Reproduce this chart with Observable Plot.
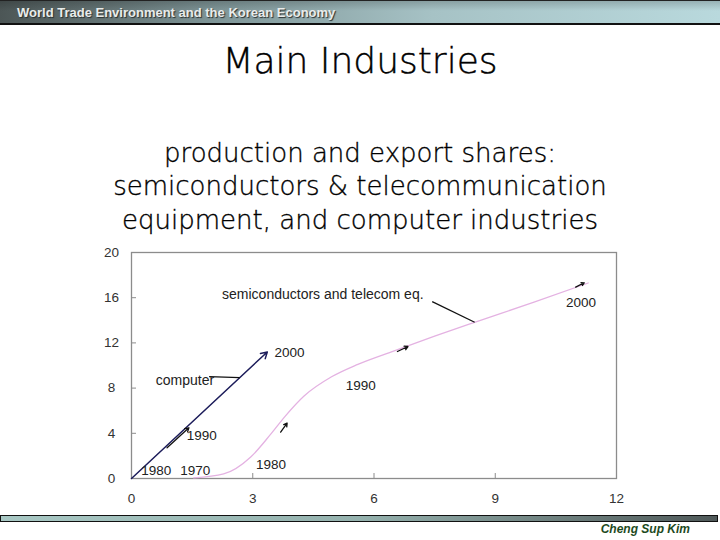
<!DOCTYPE html>
<html>
<head>
<meta charset="utf-8">
<script src="https://cdn.jsdelivr.net/npm/d3@7"></script>
<script src="https://cdn.jsdelivr.net/npm/@observablehq/plot@0.6"></script>
<style>
  html, body { margin: 0; padding: 0; background: #fff; }
  #page { position: relative; width: 720px; height: 540px; overflow: hidden; background: #fff; }
  #header { position: absolute; left: 0; top: 0; width: 720px; height: 22px;
    border-top: 1px solid #222; border-bottom: 2px solid #111;
    background: linear-gradient(to bottom, rgba(0,0,0,0.18), rgba(0,0,0,0) 45%),
                linear-gradient(to right, #4c5656 0%, #7f9698 30%, #a6c2c5 60%, #b9d9dd 100%);
    font: bold 13px "Liberation Sans", Arial, sans-serif; color: #e9eceb;
    line-height: 23px; text-shadow: 1px 1px 1px #2a3030; }
  #header span { position: absolute; left: 17px; top: 0; }
  #title { position: absolute; left: 0; width: 720px; top: 41px; text-align: center;
    font: 200 36px "DejaVu Sans", sans-serif; line-height: 40px; color: #000;
    -webkit-text-stroke: 0.4px #000; }
  #subtitle { position: absolute; left: 0; width: 720px; top: 137px; text-align: center;
    font: 200 26px "DejaVu Sans", sans-serif; line-height: 33.4px; color: #000;
    -webkit-text-stroke: 0.35px #000; }
  #chart { position: absolute; left: 0; top: 240px; }
  #footbar { position: absolute; left: 0; top: 515px; width: 716px; height: 5px;
    border: 1.5px solid #111;
    background: linear-gradient(to right, #a8c8c4 0%, #95b2ae 50%, #4f5959 100%); }
  #author { position: absolute; right: 30px; top: 522px;
    font: italic bold 12px "Liberation Sans", Arial, sans-serif; color: #1d4a1d; }
</style>
</head>
<body>
<div id="page">
  <div id="header"><span>World Trade Environment and the Korean Economy</span></div>
  <div id="title">Main Industries</div>
  <div id="subtitle">production and export shares:<br>semiconductors &amp; telecommunication<br>equipment, and computer industries</div>
  <div id="chart"></div>
  <div id="footbar"></div>
  <div id="author">Cheng Sup Kim</div>
</div>
<script>
// ---- data ----
const xTicks = [0, 3, 6, 9, 12];
const yTicks = [0, 4, 8, 12, 16, 20];
const innerXTicks = [3, 6, 9];
const innerYTicks = [4, 8, 12, 16];

// computer: straight path (start, end)
const computerX = [0, 3.36];
const computerY = [0, 11.2];

// semiconductors & telecom eq. curve
const semiX = [1.54, 2.28, 2.95, 3.44, 3.8, 4.27, 4.95, 5.6, 6.5, 7.5, 8.47, 9.96, 11.3];
const semiY = [0.05, 0.4, 1.9, 3.9, 5.5, 7.3, 9.0, 10.1, 11.3, 12.6, 13.8, 15.6, 17.3];

// year labels
const computerYears = ["1980", "1990", "2000"];
const computerYearX = [0.61, 1.74, 3.91];
const computerYearY = [0.71, 3.83, 11.12];
const semiYears = ["1970", "1980", "1990", "2000"];
const semiYearX = [1.58, 3.45, 5.67, 11.12];
const semiYearY = [0.71, 1.26, 8.2, 15.6];

// direction arrows
const arrowX1 = [0.88, 3.69, 6.58, 10.99];
const arrowY1 = [2.72, 4.1, 11.24, 16.93];
const arrowX2 = [1.42, 3.85, 6.84, 11.2];
const arrowY2 = [4.49, 4.9, 11.68, 17.32];

// series names and their leader lines
const seriesNames = ["computer", "semiconductors and telecom eq."];
const nameX = [0.6, 2.24];
const nameY = [8.67, 16.3];
const leaderX1 = [1.92, 7.44];
const leaderY1 = [9.02, 15.66];
const leaderX2 = [2.68, 8.49];
const leaderY2 = [8.93, 13.83];

// ---- build tables ----
const semi = semiX.map((x, i) => ({x, y: semiY[i]}));
const computer = [{x1: computerX[0], y1: computerY[0], x2: computerX[1], y2: computerY[1]}];
const years = [
  ...computerYears.map((t, i) => ({t, x: computerYearX[i], y: computerYearY[i]})),
  ...semiYears.map((t, i) => ({t, x: semiYearX[i], y: semiYearY[i]}))
];
const arrows = arrowX1.map((x1, i) => ({x1, y1: arrowY1[i], x2: arrowX2[i], y2: arrowY2[i]}));
const names = seriesNames.map((t, i) => ({t, x: nameX[i], y: nameY[i]}));
const leaders = leaderX1.map((x1, i) => ({x1, y1: leaderY1[i], x2: leaderX2[i], y2: leaderY2[i]}));

const W = 720, H = 270, mL = 131, mR = 104, mT = 12, mB = 32;
const innerW = W - mL - mR, innerH = H - mT - mB;

const chart = Plot.plot({
  width: W, height: H,
  marginLeft: mL, marginRight: mR, marginTop: mT, marginBottom: mB,
  x: {domain: [0, 12]},
  y: {domain: [0, 20]},
  style: {fontFamily: "'Liberation Sans', Arial, sans-serif", fontSize: "13.5px", background: "transparent", color: "#333"},
  marks: [
    Plot.frame({stroke: "#8c8c8c", strokeWidth: 1.3}),
    Plot.ruleX(innerXTicks, {x: d => d, insetTop: innerH - 5, stroke: "#8c8c8c"}),
    Plot.ruleY(innerYTicks, {y: d => d, insetRight: innerW - 5, stroke: "#8c8c8c"}),
    Plot.axisX({ticks: xTicks, tickSize: 0, tickPadding: 15, label: null, fill: "#333", fontSize: 13.5}),
    Plot.axisY({ticks: yTicks, tickSize: 0, tickPadding: 20, textAnchor: "middle", label: null, fill: "#333", fontSize: 13.5}),
    Plot.line(semi, {x: "x", y: "y", curve: "monotone-x", stroke: "#e4b2e2", strokeWidth: 1.3}),
    Plot.arrow(computer, {x1: "x1", y1: "y1", x2: "x2", y2: "y2", stroke: "#1c1c5a", strokeWidth: 1.5, headLength: 7}),
    Plot.arrow(arrows, {x1: "x1", y1: "y1", x2: "x2", y2: "y2", stroke: "#111", strokeWidth: 1.3, headLength: 5}),
    Plot.link(leaders, {x1: "x1", y1: "y1", x2: "x2", y2: "y2", stroke: "#111", strokeWidth: 1.3}),
    Plot.text(years, {x: "x", y: "y", text: "t", fill: "#222", fontSize: 13.5}),
    Plot.text(names, {x: "x", y: "y", text: "t", textAnchor: "start", fill: "#222", fontSize: 14})
  ]
});
document.getElementById("chart").appendChild(chart);
</script>
</body>
</html>
